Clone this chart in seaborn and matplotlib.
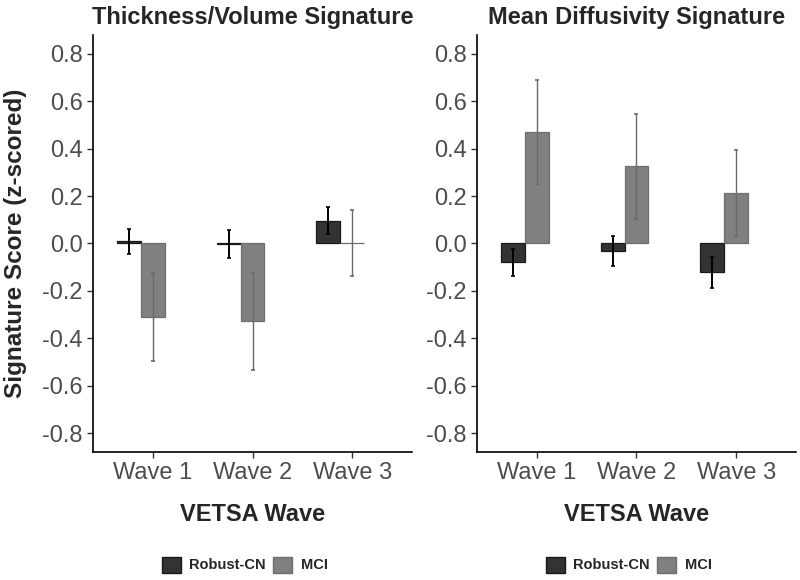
import pandas as pd
import matplotlib
matplotlib.use("Agg")  # headless rendering
import matplotlib.pyplot as plt
import matplotlib.patches as mpatches
import seaborn as sns

sns.set_style("white")
plt.rcParams["font.family"] = ["Liberation Sans", "DejaVu Sans"]
plt.rcParams["axes.unicode_minus"] = False

waves = ["Wave 1", "Wave 2", "Wave 3"]
groups = ["Robust-CN", "MCI"]
fill = {"Robust-CN": "#333333", "MCI": "#808080"}
edge = {"Robust-CN": "#1a1a1a", "MCI": "#6e6e6e"}
err_color = {"Robust-CN": "#000000", "MCI": "#6a6a6a"}
y_ticks = [-0.8, -0.6, -0.4, -0.2, 0.0, 0.2, 0.4, 0.6, 0.8]

# Thickness/Volume signature: means and error half-widths
thick_robust = [0.009, -0.002, 0.096]
thick_robust_err = [0.054, 0.061, 0.056]
thick_mci = [-0.309, -0.329, 0.003]
thick_mci_err = [0.186, 0.206, 0.140]

# Mean Diffusivity signature
md_robust = [-0.080, -0.033, -0.122]
md_robust_err = [0.058, 0.063, 0.064]
md_mci = [0.470, 0.325, 0.213]
md_mci_err = [0.220, 0.220, 0.182]


def draw_panel(ax, robust, robust_err, mci, mci_err, title, ylabel=True):
    df = pd.DataFrame({
        "Wave": waves * 2,
        "Group": ["Robust-CN"] * 3 + ["MCI"] * 3,
        "Score": robust + mci,
        "Err": robust_err + mci_err,
    })
    sns.barplot(data=df, x="Wave", y="Score", hue="Group", hue_order=groups,
                palette=fill, width=0.48, errorbar=None, legend=False,
                saturation=1, linewidth=0.9, ax=ax)

    # error bars on top of each bar, coloured by group
    for container, g in zip(ax.containers, groups):
        sub = df[df["Group"] == g]
        xs = []
        for bar in container:
            bar.set_edgecolor(edge[g])
            xs.append(bar.get_x() + bar.get_width() / 2)
        ax.errorbar(xs, sub["Score"], yerr=sub["Err"], fmt="none",
                    ecolor=err_color[g], elinewidth=1.4 if g == "Robust-CN" else 1.0,
                    capsize=1.5, capthick=1.2)

    ax.set_xticks([i + 0.12 for i in range(3)])
    ax.set_xticklabels(waves)
    ax.set_xlim(-0.6 + 0.12, 2.6 + 0.12)
    ax.set_ylim(-0.88, 0.88)
    ax.set_yticks(y_ticks)
    ax.set_yticklabels([f"{v:.1f}" for v in y_ticks])

    sns.despine(ax=ax)
    for side in ["left", "bottom"]:
        ax.spines[side].set_linewidth(1.2)
        ax.spines[side].set_color("black")
    ax.tick_params(direction="out", length=4, width=1, color="#333333",
                   labelcolor="#4D4D4D", labelsize=17, bottom=True, left=True)

    ax.set_title(title, fontsize=17, fontweight="bold", pad=8)
    ax.set_xlabel("VETSA Wave", fontsize=17, fontweight="bold")
    ax.xaxis.set_label_coords(0.5, -0.122)
    if ylabel:
        ax.set_ylabel("Signature Score (z-scored)", fontsize=17.5, fontweight="bold")
        ax.yaxis.set_label_coords(-0.207, 0.5)
    else:
        ax.set_ylabel("")

    handles = [mpatches.Patch(facecolor=fill[g], edgecolor=edge[g], label=g) for g in groups]
    ax.legend(handles=handles, loc="center", bbox_to_anchor=(0.476, -0.27),
              ncol=2, frameon=False, handlelength=1.3, handleheight=1.3,
              handletextpad=0.6, columnspacing=0.5,
              prop={"weight": "bold", "size": 10.5})


fig = plt.figure(figsize=(8, 5.8), dpi=100)
ax1 = fig.add_axes([0.11625, 0.2207, 0.39875, 0.719])
ax2 = fig.add_axes([0.59625, 0.2207, 0.39875, 0.719])

draw_panel(ax1, thick_robust, thick_robust_err, thick_mci, thick_mci_err,
           "Thickness/Volume Signature")
draw_panel(ax2, md_robust, md_robust_err, md_mci, md_mci_err,
           "Mean Diffusivity Signature", ylabel=False)

fig.savefig("out.png", dpi=100)
plt.close()
